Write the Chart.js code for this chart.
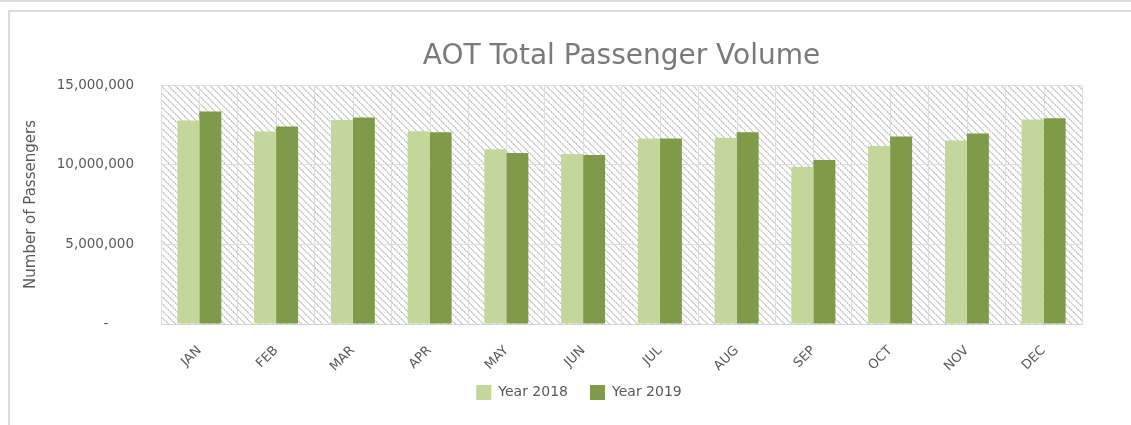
<!DOCTYPE html>
<html>
<head>
<meta charset="utf-8">
<script src="https://cdn.jsdelivr.net/npm/chart.js@4"></script>
<style>
  html, body { margin: 0; padding: 0; background: #fff; overflow: hidden; }
  body { width: 1131px; height: 425px; position: relative; }
  .topline { position: absolute; left: 0; top: 0; width: 1131px; height: 2px; background: #dedede; }
  .frame { position: absolute; left: 8px; top: 10px; width: 1200px; height: 500px;
           border-top: 2px solid #dcdcdc; border-left: 2px solid #dcdcdc; }
  #wrap { position: absolute; left: 10px; top: 12px; width: 1138px; height: 413px; }
</style>
</head>
<body>
<div class="topline"></div>
<div class="frame"></div>
<div id="wrap"><canvas id="chart"></canvas></div>
<script>
// ── DATA ──────────────────────────────────────────────────────────
const months = ['JAN', 'FEB', 'MAR', 'APR', 'MAY', 'JUN', 'JUL', 'AUG', 'SEP', 'OCT', 'NOV', 'DEC'];
const pax2018 = [12770000, 12080000, 12810000, 12100000, 10960000, 10670000, 11650000, 11690000, 9870000, 11170000, 11520000, 12830000];
const pax2019 = [13330000, 12390000, 12960000, 12040000, 10730000, 10600000, 11640000, 12040000, 10290000, 11770000, 11960000, 12920000];
const yTicks = [0, 5000000, 10000000, 15000000];

const TEXT = '#595959';
const GRID = '#dedede';
const FONT = 'DejaVu Sans';

// ── HATCHED PLOT BACKGROUND + MID-CATEGORY LINES + TITLE ─────────
function makeHatch() {
  const n = 7;
  const c = document.createElement('canvas');
  c.width = n; c.height = n;
  const g = c.getContext('2d');
  g.fillStyle = '#fff';
  g.fillRect(0, 0, n, n);
  for (let i = 0; i < n; i++) {
    g.fillStyle = i % 2 ? '#dcdcdc' : '#c8c8c8';
    g.fillRect(i, i, 1, 1);
    g.fillStyle = i % 2 ? '#cbcbcb' : '#e2e2e2';
    g.fillRect((i + 1) % n, i, 1, 1);
  }
  return c;
}

const plotDecor = {
  id: 'plotDecor',
  afterLayout(chart) {
    // centre the legend under the whole frame and lift it a little
    const lg = chart.legend;
    lg.left += 33; lg.right += 33;
    lg.top -= 15; lg.bottom -= 15;
  },
  beforeDraw(chart) {
    const { ctx, chartArea: a, scales } = chart;
    ctx.save();
    ctx.fillStyle = ctx.createPattern(makeHatch(), 'repeat');
    ctx.fillRect(a.left, a.top, a.right - a.left, a.bottom - a.top);
    // extra vertical lines through each category centre
    ctx.strokeStyle = GRID;
    ctx.lineWidth = 1;
    months.forEach((m, i) => {
      const x = Math.round(scales.x.getPixelForValue(i)) + 0.5;
      ctx.beginPath();
      ctx.moveTo(x, a.top);
      ctx.lineTo(x, a.bottom);
      ctx.stroke();
    });
    ctx.restore();
  },
  afterDraw(chart) {
    const { ctx, chartArea: a } = chart;
    ctx.save();
    ctx.font = '28px "' + FONT + '"';
    ctx.fillStyle = '#7a7a7a';
    ctx.textAlign = 'center';
    ctx.textBaseline = 'middle';
    ctx.fillText('AOT Total Passenger Volume', (a.left + a.right) / 2, 45);
    ctx.restore();
  }
};

// ── CHART ─────────────────────────────────────────────────────────
new Chart(document.getElementById('chart'), {
  type: 'bar',
  data: {
    labels: months,
    datasets: [
      { label: 'Year 2018', data: pax2018, backgroundColor: '#c3d69b' },
      { label: 'Year 2019', data: pax2019, backgroundColor: '#7f9a48' },
    ],
  },
  options: {
    responsive: true,
    maintainAspectRatio: false,
    animation: false,
    events: [],
    layout: { padding: { top: 73, right: 66, bottom: 0, left: 0 } },
    datasets: { bar: { categoryPercentage: 0.573, barPercentage: 1.0 } },
    plugins: {
      title: { display: false },
      tooltip: { enabled: false },
      legend: {
        position: 'bottom',
        labels: {
          color: TEXT,
          font: { family: FONT, size: 14 },
          boxWidth: 15,
          boxHeight: 15,
          padding: 22,
        },
      },
    },
    scales: {
      x: {
        grid: { display: true, offset: true, color: GRID, drawTicks: false },
        border: { display: true, color: '#d4d4d4' },
        ticks: {
          color: TEXT,
          font: { family: FONT, size: 13 },
          minRotation: 45,
          maxRotation: 45,
          padding: 19,
        },
        afterFit: s => { s.height = 54; },
      },
      y: {
        min: 0,
        max: 15000000,
        afterBuildTicks: s => { s.ticks = yTicks.map(v => ({ value: v })); },
        grid: { color: GRID, drawTicks: false },
        border: { display: false },
        ticks: {
          color: TEXT,
          font: { family: FONT, size: 13.5 },
          padding: 27,
          callback: v => v === 0 ? '-      ' : v.toLocaleString('en-US'),
        },
        title: {
          display: true,
          text: 'Number of Passengers',
          color: TEXT,
          font: { family: FONT, size: 15 },
          padding: { top: 12, bottom: 0 },
        },
        afterFit: s => { s.width = 151; },
      },
    },
  },
  plugins: [plotDecor],
});
</script>
</body>
</html>
